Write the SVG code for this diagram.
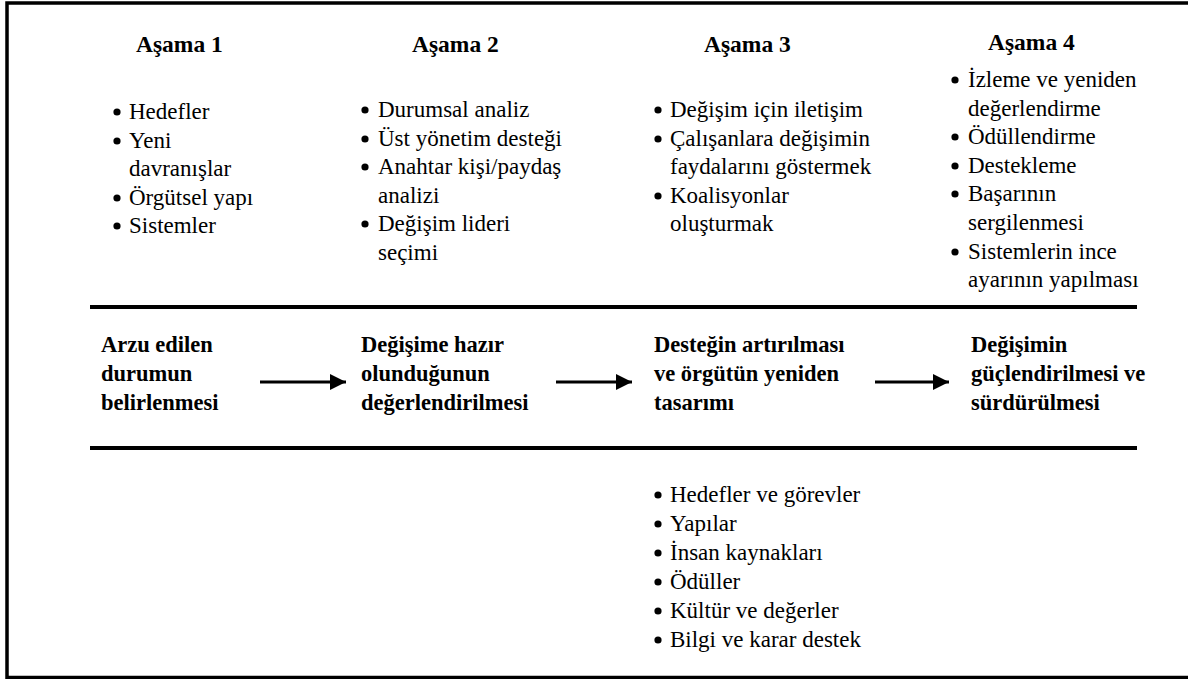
<svg xmlns="http://www.w3.org/2000/svg" width="1188" height="679" viewBox="0 0 1188 679">
<style>
.h{font-family:Liberation Serif,DejaVu Serif,serif;font-weight:bold;font-size:23.5px;fill:#000}
.t{font-family:Liberation Serif,DejaVu Serif,serif;font-size:23px;fill:#000}
.b{font-family:Liberation Serif,DejaVu Serif,serif;font-weight:bold;font-size:22.5px;fill:#000}
.rule{stroke:#000;stroke-width:4;fill:none}
.arr{stroke:#000;stroke-width:3;fill:none}
</style>
<defs>
<circle id="dot" r="3.6" fill="#000"/>
<marker id="ah" markerUnits="userSpaceOnUse" markerWidth="16" markerHeight="16" refX="16" refY="8" orient="auto"><path d="M0,0 L16,8 L0,16 Z" fill="#000"/></marker>
</defs>
<rect x="0" y="0" width="1188" height="679" fill="#fff"/>
<rect x="7" y="3" width="1200" height="674.5" fill="none" stroke="#000" stroke-width="3.5"/>

<g id="stage1">
<text class="h" x="136" y="52">Aşama 1</text>
<use href="#dot" x="117" y="112"/><use href="#dot" x="117" y="141"/><use href="#dot" x="117" y="198"/><use href="#dot" x="117" y="226"/>
<text class="t" x="129" y="119">Hedefler<tspan x="129" dy="28.6">Yeni</tspan><tspan x="129" dy="28.6">davranışlar</tspan><tspan x="129" dy="28.6">Örgütsel yapı</tspan><tspan x="129" dy="28.6">Sistemler</tspan></text>
</g>

<g id="stage2">
<text class="h" x="412" y="52">Aşama 2</text>
<use href="#dot" x="365" y="110"/><use href="#dot" x="365" y="139"/><use href="#dot" x="365" y="167"/><use href="#dot" x="365" y="224"/>
<text class="t" x="378" y="117">Durumsal analiz<tspan x="378" dy="28.6">Üst yönetim desteği</tspan><tspan x="378" dy="28.6">Anahtar kişi/paydaş</tspan><tspan x="378" dy="28.6">analizi</tspan><tspan x="378" dy="28.6">Değişim lideri</tspan><tspan x="378" dy="28.6">seçimi</tspan></text>
</g>

<g id="stage3">
<text class="h" x="704" y="52">Aşama 3</text>
<use href="#dot" x="658" y="110"/><use href="#dot" x="658" y="139"/><use href="#dot" x="658" y="196"/>
<text class="t" x="670" y="117">Değişim için iletişim<tspan x="670" dy="28.6">Çalışanlara değişimin</tspan><tspan x="670" dy="28.6">faydalarını göstermek</tspan><tspan x="670" dy="28.6">Koalisyonlar</tspan><tspan x="670" dy="28.6">oluşturmak</tspan></text>
</g>

<g id="stage4">
<text class="h" x="988" y="50">Aşama 4</text>
<use href="#dot" x="955" y="80"/><use href="#dot" x="955" y="137"/><use href="#dot" x="955" y="166"/><use href="#dot" x="955" y="194"/><use href="#dot" x="955" y="252"/>
<text class="t" x="968" y="87">İzleme ve yeniden<tspan x="968" dy="28.6">değerlendirme</tspan><tspan x="968" dy="28.6">Ödüllendirme</tspan><tspan x="968" dy="28.6">Destekleme</tspan><tspan x="968" dy="28.6">Başarının</tspan><tspan x="968" dy="28.6">sergilenmesi</tspan><tspan x="968" dy="28.6">Sistemlerin ince</tspan><tspan x="968" dy="28.6">ayarının yapılması</tspan></text>
</g>

<g id="rules">
<line class="rule" x1="90" y1="307" x2="1137" y2="307"/>
<line class="rule" x1="90" y1="448" x2="1137" y2="448"/>
</g>

<g id="stepA">
<text class="b" x="101" y="352">Arzu edilen<tspan x="101" dy="29">durumun</tspan><tspan x="101" dy="29">belirlenmesi</tspan></text>
</g>
<g id="stepB">
<text class="b" x="361" y="352">Değişime hazır<tspan x="361" dy="29">olunduğunun</tspan><tspan x="361" dy="29">değerlendirilmesi</tspan></text>
</g>
<g id="stepC">
<text class="b" x="654" y="352">Desteğin artırılması<tspan x="654" dy="29">ve örgütün yeniden</tspan><tspan x="654" dy="29">tasarımı</tspan></text>
</g>
<g id="stepD">
<text class="b" x="971" y="352">Değişimin<tspan x="971" dy="29">güçlendirilmesi ve</tspan><tspan x="971" dy="29">sürdürülmesi</tspan></text>
</g>

<g id="connectors">
<line class="arr" x1="260" y1="382" x2="346" y2="382" marker-end="url(#ah)"/>
<line class="arr" x1="556" y1="382" x2="632" y2="382" marker-end="url(#ah)"/>
<line class="arr" x1="875" y1="382" x2="949" y2="382" marker-end="url(#ah)"/>
</g>

<g id="stage3-design">
<use href="#dot" x="658" y="495"/><use href="#dot" x="658" y="524"/><use href="#dot" x="658" y="553"/><use href="#dot" x="658" y="582"/><use href="#dot" x="658" y="611"/><use href="#dot" x="658" y="640"/>
<text class="t" x="670" y="502">Hedefler ve görevler<tspan x="670" dy="29">Yapılar</tspan><tspan x="670" dy="29">İnsan kaynakları</tspan><tspan x="670" dy="29">Ödüller</tspan><tspan x="670" dy="29">Kültür ve değerler</tspan><tspan x="670" dy="29">Bilgi ve karar destek</tspan></text>
</g>
</svg>
